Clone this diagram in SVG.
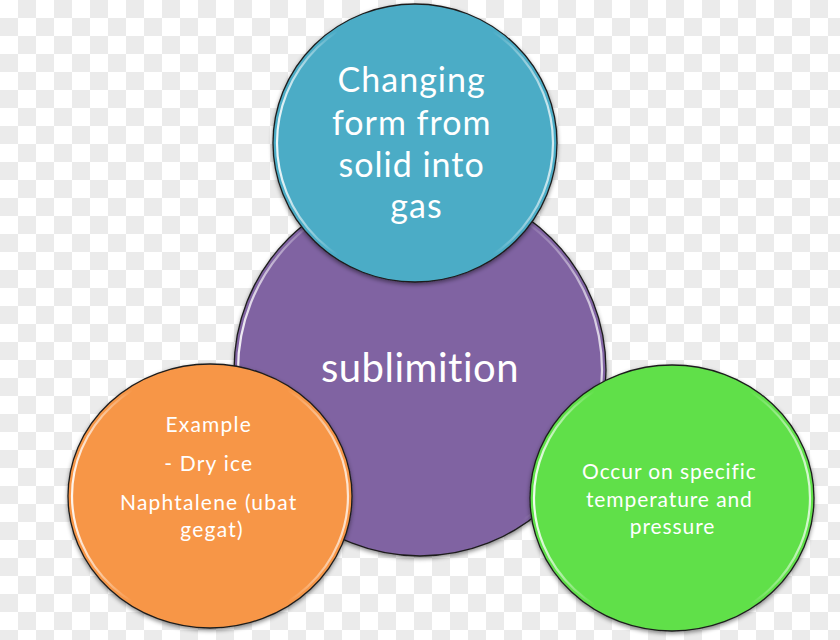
<svg xmlns="http://www.w3.org/2000/svg" width="840" height="640" viewBox="0 0 840 640">
<defs>
  <pattern id="checker" x="0" y="0" width="36" height="36" patternUnits="userSpaceOnUse">
    <rect x="0" y="0" width="36" height="36" fill="#ffffff"/>
    <rect x="18" y="0" width="18" height="18" fill="#ebebeb"/>
    <rect x="0" y="18" width="18" height="18" fill="#ebebeb"/>
  </pattern>
  <linearGradient id="hl" x1="0" y1="0" x2="1" y2="0">
    <stop offset="0" stop-color="#ffffff" stop-opacity="0.9"/>
    <stop offset="0.22" stop-color="#ffffff" stop-opacity="0"/>
    <stop offset="0.78" stop-color="#ffffff" stop-opacity="0"/>
    <stop offset="1" stop-color="#ffffff" stop-opacity="0.75"/>
  </linearGradient>
  <filter id="shadow" x="-10%" y="-10%" width="120%" height="125%">
    <feDropShadow dx="0" dy="2" stdDeviation="2" flood-color="#000000" flood-opacity="0.45"/>
  </filter>
  <style>
    .disc { stroke: #1e1e1e; stroke-width: 1.3; filter: url(#shadow); }
    .hl { fill: none; stroke: url(#hl); stroke-width: 2.2; }
    .t { font-family: Lato, "Open Sans", "Liberation Sans", sans-serif; fill: #ffffff; text-anchor: middle; font-variant-ligatures: none; }
  </style>
</defs>
<rect x="0" y="0" width="840" height="640" fill="url(#checker)"/>
<g id="connectors"></g>
<g id="node-sublimition">
  <circle class="disc" cx="420" cy="370" r="186" fill="#8064a2"/>
  <circle class="hl" cx="420" cy="370" r="182"/>
  <text class="t" x="420" y="382" font-size="40" letter-spacing="0.5">sublimition</text>
</g>
<g id="node-definition">
  <ellipse class="disc" cx="415" cy="143" rx="142" ry="139" fill="#4bacc6"/>
  <ellipse class="hl" cx="415" cy="143" rx="138" ry="135"/>
  <text class="t" font-size="34" letter-spacing="1">
    <tspan x="416.5" y="92">Changing</tspan>
    <tspan x="416.5" y="135">form from</tspan>
    <tspan x="416.5" y="177">solid into</tspan>
    <tspan x="416.5" y="218">gas</tspan>
  </text>
</g>
<g id="node-example">
  <ellipse class="disc" cx="210" cy="496" rx="142" ry="132" fill="#f79646"/>
  <ellipse class="hl" cx="210" cy="496" rx="138" ry="128"/>
  <text class="t" font-size="21" letter-spacing="1.2">
    <tspan x="212" y="432">Example</tspan>
    <tspan x="212" y="471">- Dry ice</tspan>
    <tspan x="212" y="510">Naphtalene (ubat</tspan>
    <tspan x="212" y="537">gegat)</tspan>
  </text>
</g>
<g id="node-condition">
  <ellipse class="disc" cx="672" cy="498" rx="142" ry="133" fill="#60e04a"/>
  <ellipse class="hl" cx="672" cy="498" rx="138" ry="129"/>
  <text class="t" font-size="21" letter-spacing="0.9">
    <tspan x="672.5" y="479">Occur on specific</tspan>
    <tspan x="672.5" y="507">temperature and</tspan>
    <tspan x="672.5" y="534">pressure</tspan>
  </text>
</g>
</svg>
